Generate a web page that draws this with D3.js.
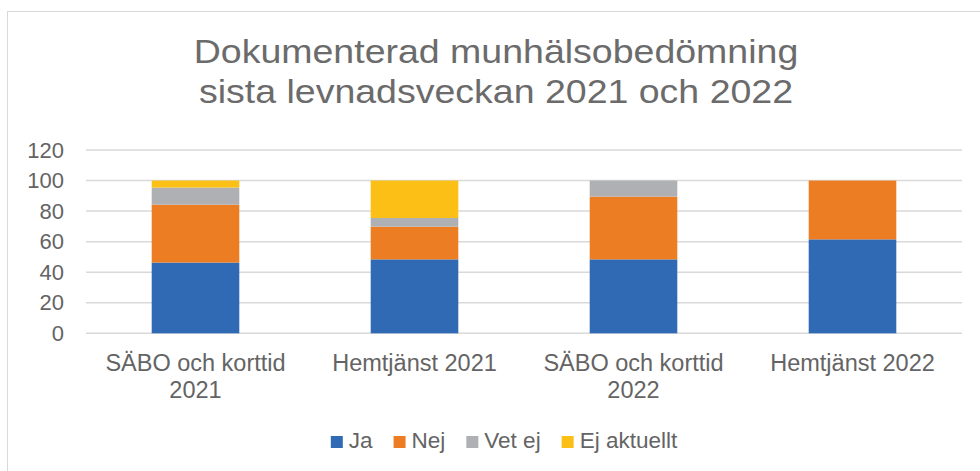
<!DOCTYPE html>
<html>
<head>
<meta charset="utf-8">
<script src="https://cdn.jsdelivr.net/npm/d3@7"></script>
<style>
  body { margin: 0; background: #fff; }
  svg { display: block; font-family: "Liberation Sans", Arial, sans-serif; }
</style>
</head>
<body>
<div id="chart"></div>
<script>
// data (percent)
var categories = ['SÄBO och korttid 2021', 'Hemtjänst 2021', 'SÄBO och korttid 2022', 'Hemtjänst 2022'];
var seriesNames = ['Ja', 'Nej', 'Vet ej', 'Ej aktuellt'];
var ja = [46.3, 48.4, 48.4, 61.5];
var nej = [37.9, 21.4, 41.1, 38.5];
var vetEj = [11.2, 5.7, 10.5, 0];
var ejAktuellt = [4.6, 24.5, 0, 0];
var yTicks = [0, 20, 40, 60, 80, 100, 120];
var titleLines = ['Dokumenterad munhälsobedömning', 'sista levnadsveckan 2021 och 2022'];

var colors = ['#306ab4', '#ed7d23', '#afb0b3', '#fbbf16'];
var textColor = '#646464';
var gridColor = '#d9d9d9';

var width = 980, height = 471;
var plot = { left: 86, right: 962, top: 150, bottom: 333.3 };

// table for d3.stack
var rows = categories.map(function(c, i) {
  return { cat: c, 'Ja': ja[i], 'Nej': nej[i], 'Vet ej': vetEj[i], 'Ej aktuellt': ejAktuellt[i] };
});

var svg = d3.select('#chart').append('svg')
    .attr('width', width)
    .attr('height', height);

// chart area border (runs off the right and bottom)
svg.append('rect')
    .attr('x', 7.5).attr('y', 11.5)
    .attr('width', 1000).attr('height', 500)
    .attr('fill', '#fff')
    .attr('stroke', gridColor);

/* ---------- title ---------- */
var title = svg.append('g')
    .attr('fill', '#6b6b6b')
    .attr('font-size', 33.5);
titleLines.forEach(function(line, i) {
  title.append('text')
      .attr('transform', 'translate(496,' + (63 + i * 39.5) + ') scale(1.12,1)')
      .attr('text-anchor', 'middle')
      .text(line);
});

/* ---------- scales ---------- */
var x = d3.scaleBand()
    .domain(categories)
    .range([plot.left, plot.right])
    .paddingInner(0.6)
    .paddingOuter(0.3);
var y = d3.scaleLinear()
    .domain([0, 120])
    .range([plot.bottom, plot.top]);

// gridlines
svg.append('g')
    .selectAll('line')
    .data(yTicks)
    .enter()
    .append('line')
    .attr('x1', plot.left).attr('x2', plot.right)
    .attr('y1', function(d) { return y(d); })
    .attr('y2', function(d) { return y(d); })
    .attr('stroke', gridColor)
    .attr('stroke-width', 1.5);

// y axis labels
var yAxis = svg.append('g')
    .attr('transform', 'translate(64,0)')
    .call(d3.axisLeft(y).tickValues(yTicks).tickSize(0).tickPadding(0));
yAxis.select('.domain').remove();
yAxis.selectAll('text')
    .attr('font-size', 22)
    .attr('font-family', '"Liberation Sans", Arial, sans-serif')
    .attr('fill', textColor);

/* ---------- bars ---------- */
var stack = d3.stack().keys(seriesNames);
var layers = svg.append('g').selectAll('g')
    .data(stack(rows))
    .enter()
    .append('g')
    .attr('fill', function(d, i) { return colors[i]; });
layers.selectAll('rect')
    .data(function(d) { return d; })
    .enter()
    .append('rect')
    .attr('x', function(d) { return x(d.data.cat); })
    .attr('width', x.bandwidth())
    .attr('y', function(d) { return y(d[1]); })
    .attr('height', function(d) { return y(d[0]) - y(d[1]); });

/* ---------- x axis labels (wrapped like Excel) ---------- */
var xAxis = svg.append('g')
    .attr('transform', 'translate(0,' + plot.bottom + ')')
    .call(d3.axisBottom(x).tickSize(0).tickPadding(0));
xAxis.select('.domain').remove();
xAxis.selectAll('text')
    .attr('font-size', 23.5)
    .attr('font-family', '"Liberation Sans", Arial, sans-serif')
    .attr('fill', textColor)
    .attr('dy', null)
    .attr('y', 38)
    .each(function(label) {
      var el = d3.select(this);
      var words = label.split(' ');
      var lines = [];
      var cur = '';
      el.text('');
      var probe = el.append('tspan');
      words.forEach(function(w) {
        var test = cur ? cur + ' ' + w : w;
        probe.text(test);
        if (probe.node().getComputedTextLength() > x.step() && cur) {
          lines.push(cur);
          cur = w;
        } else {
          cur = test;
        }
      });
      lines.push(cur);
      probe.remove();
      lines.forEach(function(l, i) {
        el.append('tspan')
            .attr('x', 0)
            .attr('y', 38 + i * 27)
            .text(l);
      });
    });

/* ---------- legend ---------- */
var legend = svg.append('g')
    .attr('font-size', 22.5)
    .attr('fill', textColor);
var items = legend.selectAll('g')
    .data(seriesNames)
    .enter()
    .append('g');
items.append('rect')
    .attr('width', 12).attr('height', 12)
    .attr('y', 436)
    .attr('fill', function(d, i) { return colors[i]; });
items.append('text')
    .attr('x', 18)
    .attr('y', 448)
    .text(function(d) { return d; });
var offsets = [];
var total = 0;
items.each(function(d, i) {
  var w = 18 + d3.select(this).select('text').node().getComputedTextLength();
  offsets.push(total);
  total += w + (i < seriesNames.length - 1 ? 21 : 0);
});
var legendStart = 504 - total / 2;
items.attr('transform', function(d, i) { return 'translate(' + (legendStart + offsets[i]) + ',0)'; });
</script>
</body>
</html>
